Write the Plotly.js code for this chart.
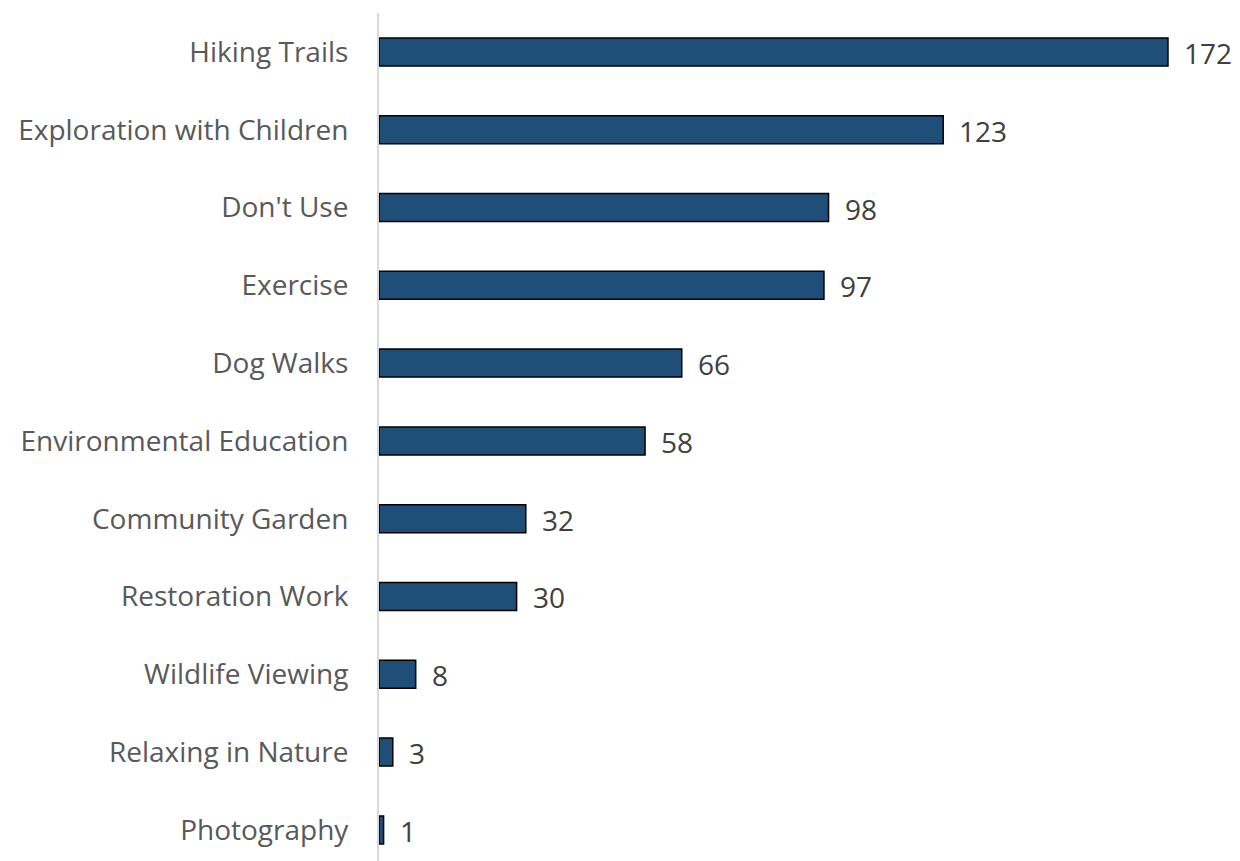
<!DOCTYPE html>
<html><head><meta charset="utf-8">
<script src="https://cdn.plot.ly/plotly-3.0.1.min.js"></script>
<style>html,body{margin:0;padding:0;background:#fff}#chart{width:1240px;height:861px}</style>
</head><body><div id="chart"></div>
<script>
const categories = ["Hiking Trails","Exploration with Children","Don't Use","Exercise","Dog Walks","Environmental Education","Community Garden","Restoration Work","Wildlife Viewing","Relaxing in Nature","Photography"];
const values = [172,123,98,97,66,58,32,30,8,3,1];

const trace = {
  type: 'bar', orientation: 'h',
  x: values, y: categories,
  width: 0.36,
  marker: {color: '#1f4e79', line: {color: '#000000', width: 1.5}},
  hoverinfo: 'skip'
};
const annotations = categories.map((c, i) => ({
  x: values[i], y: c, xref: 'x', yref: 'y', text: String(values[i]),
  showarrow: false, xanchor: 'left', yanchor: 'middle', xshift: 14, yshift: -1,
  font: {family: 'Open Sans, sans-serif', size: 28, color: '#404040'}
}));
const layout = {
  width: 1240, height: 861,
  margin: {l: 379, r: 0, t: 13, b: 0},
  paper_bgcolor: '#fff', plot_bgcolor: '#fff',
  showlegend: false,
  xaxis: {range: [0, 187.7], showgrid: false, zeroline: false, showticklabels: false, showline: false, ticks: ''},
  yaxis: {type: 'category', range: [10.4, -0.5], showgrid: false, zeroline: false,
          showline: true, linecolor: '#d9d9d9', linewidth: 2, ticks: '', ticklabelstandoff: 23,
          tickfont: {family: 'Open Sans, sans-serif', size: 28, color: '#595959'}},
  annotations: annotations
};
Plotly.newPlot('chart', [trace], layout, {displayModeBar: false, staticPlot: true});
</script></body></html>
